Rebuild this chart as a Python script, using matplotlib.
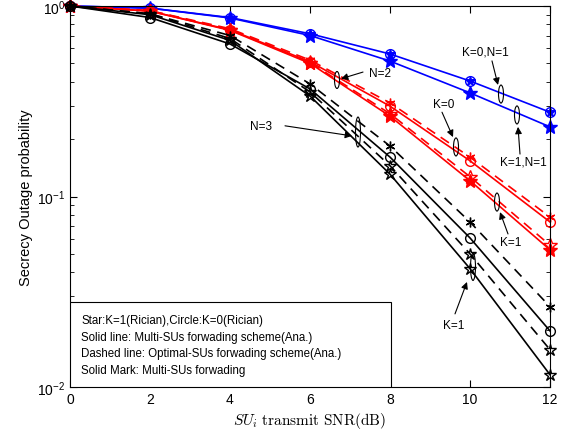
import numpy as np
import matplotlib
matplotlib.use("Agg")
import matplotlib.pyplot as plt
from matplotlib.patches import Ellipse, Rectangle

plt.rcParams['font.family'] = ['Liberation Sans', 'DejaVu Sans']

x = [0, 2, 4, 6, 8, 10, 12]
# N=1 (blue)
blue_k0_solid = [1.0, 0.975, 0.87, 0.715, 0.56, 0.404, 0.277]
blue_k1_solid = [1.0, 0.975, 0.865, 0.70, 0.514, 0.35, 0.232]
# N=2 (red)
red_k0_solid = [1.0, 0.94, 0.75, 0.51, 0.298, 0.154, 0.0735]
red_k0_dash = [1.0, 0.945, 0.76, 0.52, 0.31, 0.161, 0.078]
red_k1_solid = [1.0, 0.94, 0.745, 0.50, 0.264, 0.121, 0.0525]
red_k1_dash = [1.0, 0.945, 0.75, 0.505, 0.272, 0.127, 0.0555]
# N=3 (black)
blk_k0_solid = [1.0, 0.87, 0.632, 0.367, 0.161, 0.0606, 0.0197]
blk_k0_dash = [1.0, 0.91, 0.70, 0.39, 0.184, 0.0735, 0.0264]
blk_k1_solid = [1.0, 0.90, 0.66, 0.337, 0.131, 0.0418, 0.0116]
blk_k1_dash = [1.0, 0.91, 0.675, 0.354, 0.145, 0.050, 0.0157]

xticks = [0, 2, 4, 6, 8, 10, 12]
legend_lines = ["Star:K=1(Rician),Circle:K=0(Rician)",
                "Solid line: Multi-SUs forwading scheme(Ana.)",
                "Dashed line: Optimal-SUs forwading scheme(Ana.)",
                "Solid Mark: Multi-SUs forwading"]

fig = plt.figure(figsize=(5.64, 4.39), dpi=100)
ax = fig.add_axes([70/564, 1-388/439, 480/564, 381/439])

lw = 1.2

def plot(y, color, ls, marker, ms, fill=False, sim=False):
    kw = dict(color=color, lw=lw, marker=marker, ms=ms,
              mfc=(color if fill else 'none'), mec=color, mew=1.0, clip_on=False)
    if ls == '--':
        ax.plot(x, y, ls='--', dashes=(6, 4), **kw)
    else:
        ax.plot(x, y, ls='-', **kw)
    if sim:
        ax.plot(x, y, ls='none', marker='*', ms=7, color=color, mew=0.8, clip_on=False)

# blue
plot(blue_k0_solid, 'b', '-', 'o', 7, sim=True)
plot(blue_k1_solid, 'b', '-', '*', 10, fill=True)
# red
plot(red_k0_dash, 'r', '--', (6, 2, 0), 7)
plot(red_k0_solid, 'r', '-', 'o', 7)
plot(red_k1_dash, 'r', '--', '*', 10)
plot(red_k1_solid, 'r', '-', '*', 10, fill=True)
# black
plot(blk_k0_dash, 'k', '--', (6, 2, 0), 7)
plot(blk_k0_solid, 'k', '-', 'o', 7)
plot(blk_k1_dash, 'k', '--', '*', 9)
plot(blk_k1_solid, 'k', '-', '*', 9)

ax.set_yscale('log')
ax.set_xlim(0, 12)
ax.set_ylim(1e-2, 1)
ax.set_xticks(xticks)
ax.set_xticklabels([str(v) for v in xticks])
ax.tick_params(which='both', direction='in', top=True, right=True, labelsize=10)
ax.tick_params(which='major', length=5)
ax.tick_params(which='minor', length=3)

ax.set_ylabel('Secrecy Outage probability', fontsize=10.5, labelpad=3)
ax.set_xlabel(r'$SU_i\ \mathrm{transmit\ SNR(dB)}$', fontsize=11,
              math_fontfamily='cm', labelpad=3)

def axfrac(xd, yd):
    return xd / 12.0, (np.log10(yd) + 2) / 2.0

def ell(xd, yd, wpx, hpx):
    cx, cy = axfrac(xd, yd)
    e = Ellipse((cx, cy), wpx / 480, hpx / 381, transform=ax.transAxes,
                fill=False, ec='k', lw=0.8, zorder=5)
    ax.add_patch(e)

def note(text, txy, start, end):
    ax.text(txy[0], txy[1], text, fontsize=8.5, ha='center', va='center', zorder=6)
    ax.annotate('', xy=end, xytext=start,
                arrowprops=dict(arrowstyle='-|>', lw=0.8, color='k',
                                mutation_scale=10, shrinkA=0, shrinkB=0))

# N=2
ell(6.675, 0.409, 5, 17)
note('N=2', (7.75, 0.445), (7.325, 0.45), (6.775, 0.415))
# N=3
ell(7.2, 0.218, 5, 30)
note('N=3', (4.78, 0.235), (5.375, 0.235), (7.05, 0.208))
# K=0,N=1
ell(10.775, 0.345, 5, 18)
note('K=0,N=1', (10.375, 0.58), (10.55, 0.515), (10.7, 0.385))
# K=1,N=1
ell(11.175, 0.268, 5, 18)
note('K=1,N=1', (11.325, 0.152), (11.25, 0.167), (11.2, 0.232))
# K=0 red
ell(9.65, 0.182, 5, 18)
note('K=0', (9.35, 0.306), (9.3, 0.277), (9.575, 0.205))
# K=1 red
ell(10.675, 0.0935, 5, 18)
note('K=1', (11.025, 0.0577), (10.95, 0.0636), (10.75, 0.0828))
# K=1 black
ell(10.075, 0.0427, 5, 27)
note('K=1', (9.6, 0.0212), (9.625, 0.0242), (9.925, 0.0356))

# legend box
ax.add_patch(Rectangle((0, 0), 321/480, 85/381, transform=ax.transAxes,
                       fc='white', ec='k', lw=0.8, zorder=7))
for t, py in zip(legend_lines, [321, 338, 354, 371]):
    ax.text(11/480, (388 - py)/381, t, transform=ax.transAxes, fontsize=8.3,
            ha='left', va='center', zorder=8)

fig.savefig('out.png', dpi=100)
